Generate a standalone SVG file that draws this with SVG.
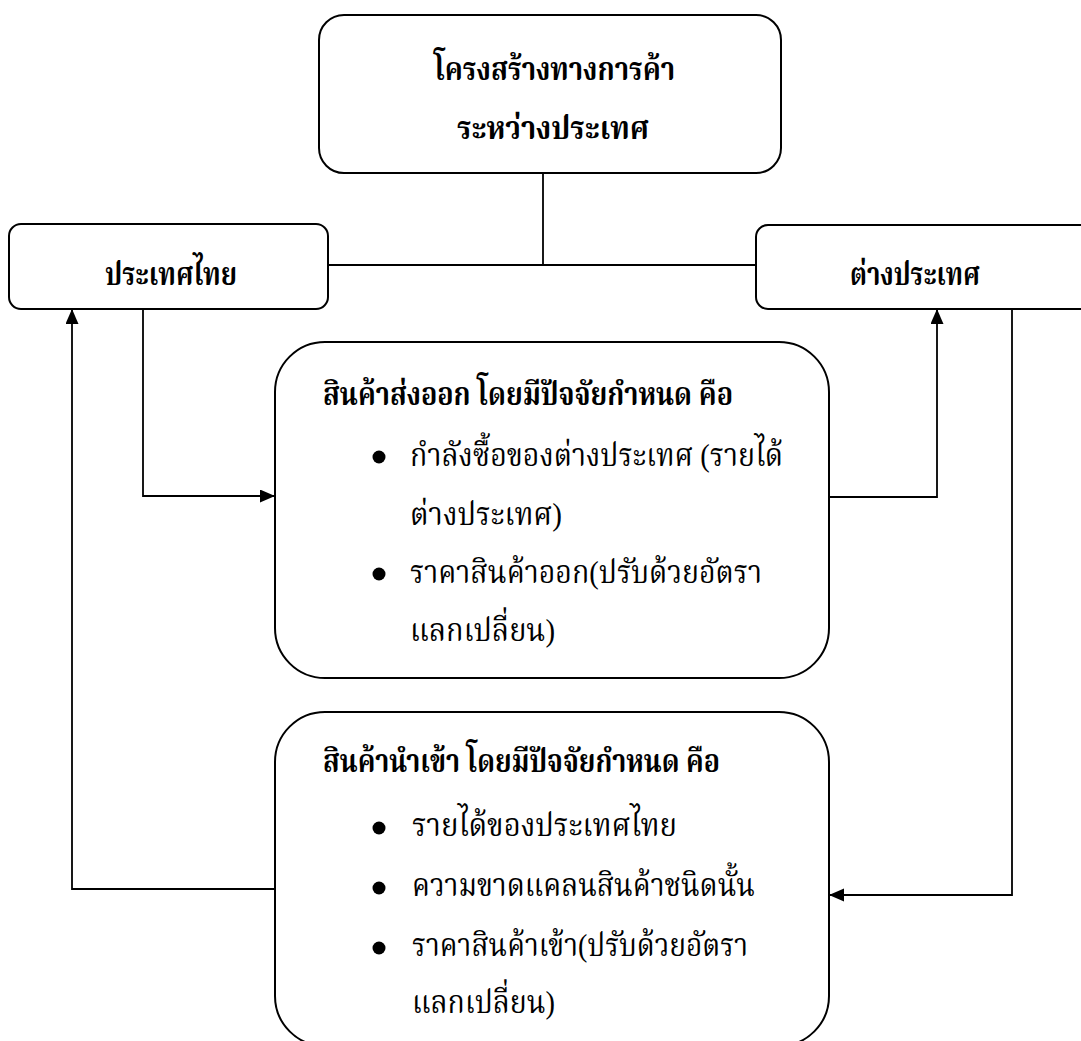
<svg xmlns="http://www.w3.org/2000/svg" width="1081" height="1041" viewBox="0 0 1081 1041">
<style>
.box{fill:none;stroke:#000;stroke-width:2}
.con{fill:none;stroke:#000;stroke-width:1.8}
.th{font-family:"Liberation Serif","Noto Serif Thai","Noto Sans Thai","DejaVu Sans",serif;fill:#000;font-size:32px}
.b{font-weight:bold}
</style>
<defs>
<marker id="arr" markerUnits="userSpaceOnUse" markerWidth="16" markerHeight="14" refX="15" refY="6.5" orient="auto">
<path d="M0,0 L15,6.5 L0,13 Z" fill="#000"/>
</marker>
</defs>
<g id="connectors">
<path class="con" d="M543,173 V265"/>
<path class="con" d="M328,265 H756"/>
<path class="con" d="M143,309 V496 H275" marker-end="url(#arr)"/>
<path class="con" d="M829,497 H937 V309" marker-end="url(#arr)"/>
<path class="con" d="M1012,309 V895 H829" marker-end="url(#arr)"/>
<path class="con" d="M275,889 H72 V309" marker-end="url(#arr)"/>
</g>
<g id="node-top">
<rect class="box" x="319" y="15" width="462" height="158" rx="25"/>
<text class="th b" x="434" y="80" textLength="241" lengthAdjust="spacingAndGlyphs">โครงสร้างทางการค้า</text>
<text class="th b" x="457" y="139" textLength="192" lengthAdjust="spacingAndGlyphs">ระหว่างประเทศ</text>
</g>
<g id="node-thai">
<rect class="box" x="9" y="224" width="319" height="85" rx="12"/>
<text class="th b" x="105" y="285" textLength="132" lengthAdjust="spacingAndGlyphs">ประเทศไทย</text>
</g>
<g id="node-foreign">
<rect class="box" x="756" y="225" width="360" height="84" rx="12"/>
<text class="th b" x="850" y="285" textLength="130" lengthAdjust="spacingAndGlyphs">ต่างประเทศ</text>
</g>
<g id="node-export">
<rect class="box" x="275" y="342" width="554" height="336" rx="50"/>
<text class="th b" x="323" y="405" textLength="410" lengthAdjust="spacingAndGlyphs">สินค้าส่งออก โดยมีปัจจัยกำหนด คือ</text>
<circle cx="379" cy="457" r="6.5"/>
<text class="th" x="410" y="466" textLength="373" lengthAdjust="spacingAndGlyphs">กำลังซื้อของต่างประเทศ (รายได้</text>
<text class="th" x="410" y="525" textLength="152" lengthAdjust="spacingAndGlyphs">ต่างประเทศ)</text>
<circle cx="379" cy="574" r="6.5"/>
<text class="th" x="410" y="583" textLength="352" lengthAdjust="spacingAndGlyphs">ราคาสินค้าออก(ปรับด้วยอัตรา</text>
<text class="th" x="410" y="641" textLength="145" lengthAdjust="spacingAndGlyphs">แลกเปลี่ยน)</text>
</g>
<g id="node-import">
<rect class="box" x="275" y="712" width="554" height="334" rx="50"/>
<text class="th b" x="323" y="772" textLength="397" lengthAdjust="spacingAndGlyphs">สินค้านำเข้า โดยมีปัจจัยกำหนด คือ</text>
<circle cx="379" cy="828" r="6.5"/>
<text class="th" x="412" y="836" textLength="265" lengthAdjust="spacingAndGlyphs">รายได้ของประเทศไทย</text>
<circle cx="379" cy="888" r="6.5"/>
<text class="th" x="412" y="896" textLength="343" lengthAdjust="spacingAndGlyphs">ความขาดแคลนสินค้าชนิดนั้น</text>
<circle cx="379" cy="948" r="6.5"/>
<text class="th" x="412" y="956" textLength="336" lengthAdjust="spacingAndGlyphs">ราคาสินค้าเข้า(ปรับด้วยอัตรา</text>
<text class="th" x="412" y="1013" textLength="143" lengthAdjust="spacingAndGlyphs">แลกเปลี่ยน)</text>
</g>
</svg>
